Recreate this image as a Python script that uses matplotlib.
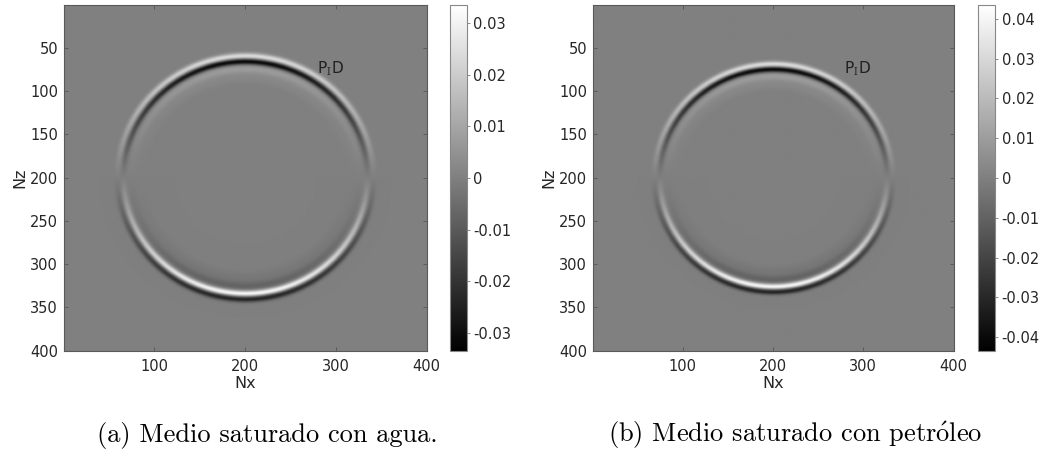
import numpy as np
import matplotlib
matplotlib.use("Agg")
import matplotlib.pyplot as plt
from matplotlib.ticker import FixedLocator, FixedFormatter

plt.rcParams["font.family"] = ["DejaVu Sans"]
plt.rcParams["mathtext.fontset"] = "cm"

# Grid (samples in x and z)
nx = 400
nz = 400

# Wavefront parameters for each medium: source centre, front radius, colour limit
center_x = [200.0, 200.0]
center_z = [200.0, 200.5]
front_radius = [134.0, 125.5]
color_limit = [0.0335, 0.0435]
pulse_width = [3.3, 3.1]

# Colour-bar ticks and labels
cbar_ticks = [
    [-0.03, -0.02, -0.01, 0.0, 0.01, 0.02, 0.03],
    [-0.04, -0.03, -0.02, -0.01, 0.0, 0.01, 0.02, 0.03, 0.04],
]
cbar_labels = [
    ["-0.03", "-0.02", "-0.01", "0", "0.01", "0.02", "0.03"],
    ["-0.04", "-0.03", "-0.02", "-0.01", "0", "0.01", "0.02", "0.03", "0.04"],
]
x_ticks = [100, 200, 300, 400]
z_ticks = [50, 100, 150, 200, 250, 300, 350, 400]
captions = [
    "(a) Medio saturado con agua.",
    r"(b) Medio saturado con petr$\acute{\mathrm{o}}$leo",
]
wave_label = r"P$_\mathrm{I}$D"
wave_label_pos = (279, 74)

TXT = "#262626"


def vertical_component(cx, cz, radius, width, amp):
    x = np.arange(1, nx + 1)
    z = np.arange(1, nz + 1)
    X, Z = np.meshgrid(x, z)
    r = np.hypot(X - cx, Z - cz) + 1e-9
    d = r - radius
    g = lambda c, s: np.exp(-((d - c) / s) ** 2)
    pulse = (g(0.0, width) - 0.75 * g(2.0 * width, width * 1.05)
             - 0.22 * g(-2.5 * width, width * 1.6) - 0.06 * g(-5.5 * width, width * 2.0))
    return amp * (Z - cz) / r * pulse


fig = plt.figure(figsize=(10.45, 4.54), dpi=100)

ax_rects = [
    [0.0608, 0.2269, 0.3478, 0.7621],
    [0.5672, 0.2269, 0.3457, 0.7621],
]
cb_rects = [
    [0.4311, 0.2269, 0.0160, 0.7621],
    [0.9355, 0.2269, 0.0170, 0.7621],
]
caption_x = [0.2555, 0.7608]

for i in range(2):
    ax = fig.add_axes(ax_rects[i])
    field = vertical_component(center_x[i], center_z[i], front_radius[i],
                               pulse_width[i], color_limit[i] * 0.97)
    im = ax.imshow(field, cmap="gray", vmin=-color_limit[i], vmax=color_limit[i],
                   extent=(0.5, nx + 0.5, nz + 0.5, 0.5), aspect="auto",
                   interpolation="bilinear")
    ax.set_xticks(x_ticks)
    ax.set_yticks(z_ticks)
    ax.tick_params(direction="in", length=3, width=0.6, colors="#555555",
                   labelcolor=TXT, labelsize=10.5, top=True, right=True)
    ax.tick_params(axis="x", pad=6)
    ax.tick_params(axis="y", pad=4)
    for sp in ax.spines.values():
        sp.set_color("#5a5a5a")
        sp.set_linewidth(0.8)
    ax.set_xlabel("Nx", fontsize=11.5, color=TXT, labelpad=1)
    ax.set_ylabel("Nz", fontsize=11.5, color=TXT, labelpad=2)
    ax.text(wave_label_pos[0], wave_label_pos[1], wave_label, fontsize=11,
            color="#202020", ha="left", va="center")

    cax = fig.add_axes(cb_rects[i])
    cb = fig.colorbar(im, cax=cax)
    cb.ax.yaxis.set_major_locator(FixedLocator(cbar_ticks[i]))
    cb.ax.yaxis.set_major_formatter(FixedFormatter(cbar_labels[i]))
    cb.ax.tick_params(direction="out", length=2.5, width=0.6, colors="#777777",
                      labelcolor=TXT, labelsize=10.5, pad=2)
    cb.outline.set_edgecolor("#888888")
    cb.outline.set_linewidth(0.8)

    fig.text(caption_x[i], 0.027, captions[i], family="cmr10", fontsize=19,
             ha="center", va="baseline", color="black")

fig.savefig("out.png", dpi=100)
